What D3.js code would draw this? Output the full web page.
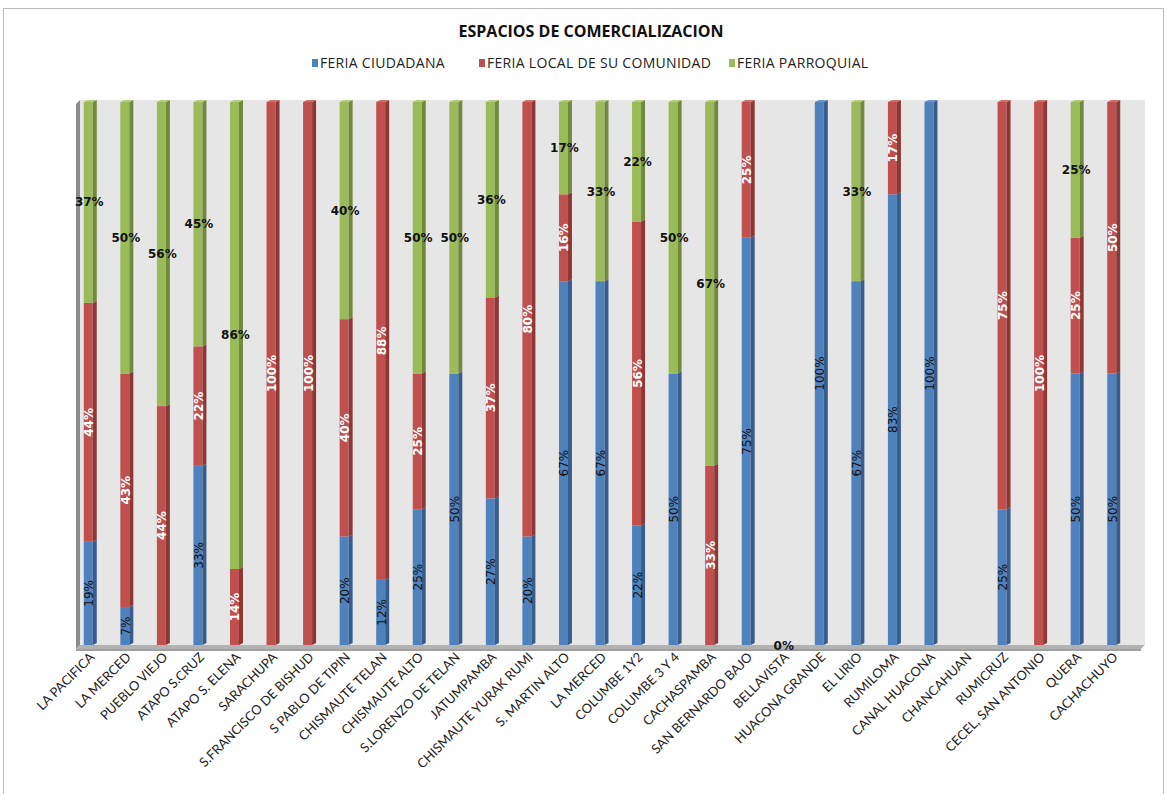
<!DOCTYPE html>
<html>
<head>
<meta charset="utf-8">
<script src="https://cdn.jsdelivr.net/npm/d3@7/dist/d3.min.js"></script>
<style>
body { margin: 0; background: #fff; }
text { font-family: "DejaVu Sans", sans-serif; }
</style>
</head>
<body>
<script>
// categorias (comunidades)
var categories = ["LA PACIFICA", "LA MERCED", "PUEBLO VIEJO", "ATAPO S.CRUZ", "ATAPO S. ELENA",
    "SARACHUPA", "S.FRANCISCO DE BISHUD", "S PABLO DE TIPIN", "CHISMAUTE TELAN", "CHISMAUTE ALTO",
    "S.LORENZO DE TELAN", "JATUMPAMBA", "CHISMAUTE YURAK RUMI", "S. MARTIN ALTO", "LA MERCED",
    "COLUMBE 1Y2", "COLUMBE 3 Y 4", "CACHASPAMBA", "SAN BERNARDO BAJO", "BELLAVISTA",
    "HUACONA GRANDE", "EL LIRIO", "RUMILOMA", "CANAL HUACONA", "CHANCAHUAN",
    "RUMICRUZ", "CECEL, SAN ANTONIO", "QUERA", "CACHACHUYO"];

// porcentajes (null = sin dato)
var feriaCiudadana = [19, 7, null, 33, null, null, null, 20, 12, 25, 50, 27, 20, 67, 67, 22, 50, null, 75, 0, 100, 67, 83, 100, null, 25, null, 50, 50];
var feriaLocal = [44, 43, 44, 22, 14, 100, 100, 40, 88, 25, null, 37, 80, 16, null, 56, null, 33, 25, null, null, null, 17, null, null, 75, 100, 25, 50];
var feriaParroquial = [37, 50, 56, 45, 86, null, null, 40, null, 50, 50, 36, null, 17, 33, 22, 50, 67, null, null, null, 33, null, null, null, null, null, 25, null];

var seriesNames = ["FERIA CIUDADANA", "FERIA LOCAL DE SU COMUNIDAD", "FERIA PARROQUIAL"];
var colors = ["#4F81BD", "#C0504D", "#9BBB59"];
var sideColors = ["#385D8A", "#8C3836", "#71893F"];
var topColors = ["#6C96CB", "#D06E6B", "#B2CC7A"];

var width = 1167, height = 794;
var plotTop = 102, plotBottom = 645;

var svg = d3.select("body").append("svg")
    .attr("width", width)
    .attr("height", height);

// marco
svg.append("rect")
    .attr("x", 3.5).attr("y", 8.5)
    .attr("width", 1160).attr("height", 800)
    .attr("fill", "none")
    .attr("stroke", "#bdbdbd");

var x = d3.scaleBand()
    .domain(d3.range(categories.length))
    .range([72, 1132])
    .paddingInner(0);

var y = d3.scaleLinear()
    .domain([0, 100])
    .range([plotBottom, plotTop]);

// pared de fondo
svg.append("rect")
    .attr("x", 80).attr("y", plotTop - 2)
    .attr("width", 1145 - 80).attr("height", plotBottom - plotTop + 2)
    .attr("fill", "#E6E6E6");

// pared izquierda
svg.append("polygon")
    .attr("points", [[76, plotTop + 2], [80, plotTop - 2], [80, plotBottom], [76, plotBottom + 4]].join(" "))
    .attr("fill", "#8c8c8c");

// piso
svg.append("polygon")
    .attr("points", [[76, plotBottom + 4], [80, plotBottom], [1145, plotBottom], [1141, plotBottom + 4]].join(" "))
    .attr("fill", "#b2b2b2");
svg.append("rect")
    .attr("x", 76).attr("y", plotBottom + 4)
    .attr("width", 1141 - 76).attr("height", 2)
    .attr("fill", "#a0a0a0");

// titulo
svg.append("text")
    .text("ESPACIOS DE COMERCIALIZACION")
    .attr("x", 591).attr("y", 37)
    .attr("text-anchor", "middle")
    .style("font-family", "'Open Sans', sans-serif")
    .style("font-weight", "bold")
    .style("font-size", "16px")
    .attr("fill", "#111");

// leyenda
var legendX = [312, 479, 729];
var legend = svg.selectAll(".legend").data(seriesNames).enter()
    .append("g").classed("legend", true)
    .attr("transform", function (d, i) { return "translate(" + legendX[i] + ",63)"; });
legend.append("rect")
    .attr("x", 0).attr("y", -4)
    .attr("width", 6).attr("height", 8)
    .attr("fill", function (d, i) { return colors[i]; });
legend.append("text")
    .text(function (d) { return d; })
    .attr("x", 8).attr("y", 5)
    .style("font-family", "'Open Sans', sans-serif")
    .style("font-size", "14px")
    .style("letter-spacing", "0.3px")
    .attr("fill", "#222");

// apilado
var rows = categories.map(function (c, i) {
    return { name: c, i: i, v: [feriaCiudadana[i], feriaLocal[i], feriaParroquial[i]] };
});
var segments = [];
rows.forEach(function (r) {
    var acc = 0;
    r.v.forEach(function (v, s) {
        if (v === null) return;
        segments.push({ i: r.i, s: s, y0: acc, y1: acc + v, v: v });
        acc += v;
    });
});

var barW = 9;
function cx(i) { return x(i) + x.bandwidth() / 2 - 2; }

var bars = svg.append("g");
segments.filter(function (d) { return d.v > 0; }).forEach(function (d) {
    var x0 = cx(d.i) - barW / 2, x1 = x0 + barW;
    var yt = y(d.y1), yb = y(d.y0);
    bars.append("rect")
        .attr("x", x0).attr("y", yt)
        .attr("width", barW).attr("height", yb - yt)
        .attr("fill", colors[d.s]);
    bars.append("polygon")
        .attr("points", [[x1, yt], [x1 + 4, yt - 2], [x1 + 4, yb - 2], [x1, yb]].join(" "))
        .attr("fill", sideColors[d.s]);
    // tapa superior solo en el ultimo segmento
    var last = segments.filter(function (e) { return e.i === d.i && e.v > 0; }).pop();
    if (last === d) {
        bars.append("polygon")
            .attr("points", [[x0, yt], [x0 + 4, yt - 2], [x1 + 4, yt - 2], [x1, yt]].join(" "))
            .attr("fill", topColors[d.s]);
    }
});

// etiquetas de datos
var labels = svg.append("g");
segments.forEach(function (d) {
    var px = cx(d.i) + 1;
    var py = (y(d.y0) + y(d.y1)) / 2;
    if (d.v === 0) {
        labels.append("text")
            .text("0%")
            .attr("x", px).attr("y", plotBottom + 5)
            .attr("text-anchor", "middle")
            .style("font-size", "12px")
            .style("font-weight", "bold")
            .attr("fill", "#111");
        return;
    }
    if (d.s === 2) {
        labels.append("text")
            .text(d.v + "%")
            .attr("x", px).attr("y", py + 4)
            .attr("text-anchor", "middle")
            .style("font-size", "12px")
            .style("font-weight", "bold")
            .attr("fill", "#111");
    } else {
        labels.append("text")
            .text(d.v + "%")
            .attr("transform", "translate(" + (px + 4) + "," + py + ") rotate(-90)")
            .attr("text-anchor", "middle")
            .style("font-size", "12px")
            .style("font-weight", d.s === 1 ? "bold" : "normal")
            .attr("fill", d.s === 1 ? "#fff" : "#111");
    }
});

// etiquetas de categoria
svg.append("g").selectAll("text").data(rows).enter()
    .append("text")
    .text(function (d) { return d.name; })
    .attr("transform", function (d) {
        return "translate(" + (cx(d.i) + 7) + "," + 658 + ") rotate(-45)";
    })
    .attr("text-anchor", "end")
    .style("font-family", "Lato, sans-serif")
    .style("font-size", "13px")
    .attr("fill", "#222");
</script>
</body>
</html>
